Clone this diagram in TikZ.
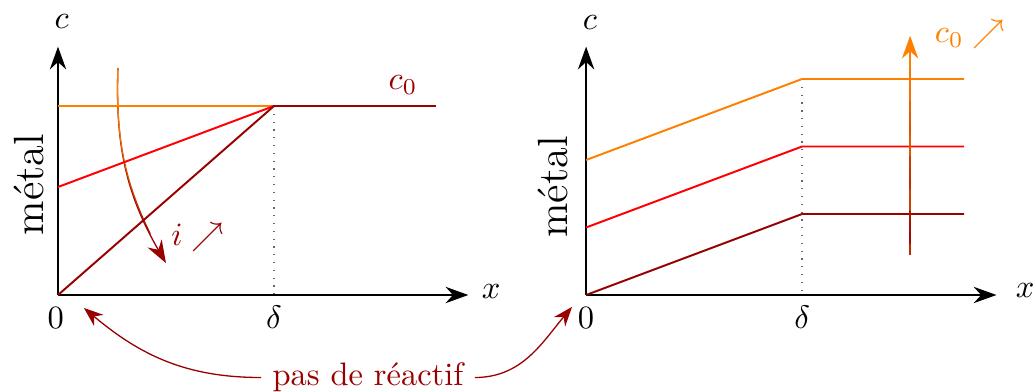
\documentclass[tikz,border=0pt]{standalone}
\usepackage{amsmath}
\usepackage{tikz}
\usetikzlibrary{arrows.meta, positioning, calc}
\colorlet{dred}{red!60!black}

\begin{document}
\begin{tikzpicture}[
    x=0.584cm, y=0.584cm,
    axis/.style={-{Stealth[length=7pt, width=5pt]}, thick},
    profile/.style={semithick},
    guide/.style={dotted, thin, gray!80!black},
    trend/.style={thin, -{Stealth[length=7pt, width=5pt]}},
    piece/.style={thin, line cap=round},
    pointer/.style={thin, dred, -{Stealth[length=6pt, width=4.5pt]}},
    sidelabel/.style={rotate=90, font=\fontsize{13}{15}\selectfont}
    ]
    \useasboundingbox (-1.074,-1.796) rectangle (18.093,5.463);

    % left: c0 fixed, current grows
    \coordinate (O1) at (0,0);
    \coordinate (X1) at (7.6,0);
    \coordinate (Y1) at (0,4.6);
    \coordinate (D1) at (4,0);
    \coordinate (S1) at (4,3.5);
    \coordinate (E1) at (7,3.5);

    \coordinate (g0) at (1.11,4.2);
    \coordinate (g1) at (2.0,0.59);
    \draw[trend, dred] (g0) to[out=-92, in=120] (g1);
    \foreach \k in {0,...,20}
        \path (g0) to[out=-92, in=120] coordinate[pos=\k/20] (gl\k) (g1);
    \foreach \k [count=\j, evaluate=\k as \pct using 100-100*(\k/17)^2] in {0,...,16}
        \draw[piece, orange!\pct!dred] (gl\k) -- (gl\j);

    \draw[axis] (O1) -- (X1);
    \draw[axis] (O1) -- (Y1);
    \draw[guide] (S1) -- (D1);
    \draw[profile, orange] (0,3.5) -- (S1);
    \draw[profile, red] (0,2) -- (S1);
    \draw[profile, dred] (O1) -- (S1) -- (E1);

    \node (c1) at (0.07,5.06) {$c$};
    \node (x1) at (8.02,0.07) {$x$};
    \node (zero1) at (-0.04,-0.43) {$0$};
    \node (delta1) at (4,-0.41) {$\delta$};
    \node[dred] (cz1) at (6.39,3.89) {$c_0$};
    \node[sidelabel] (metal1) at (-0.53,2.04) {métal};
    \node[dred] (cur) at (2.59,1.07) {$i \nearrow$};

    % right: c0 rises
    \begin{scope}[shift={(9.78,0)}]
        \coordinate (O2) at (0,0);
        \coordinate (X2) at (7.6,0);
        \coordinate (Y2) at (0,4.6);
        \coordinate (D2) at (4,0);
        \coordinate (S2) at (4,4);
        \draw[axis] (O2) -- (X2);
        \draw[axis] (O2) -- (Y2);
        \draw[guide] (S2) -- (D2);
        \draw[profile, orange] (0,2.5) -- (S2) -- (7,4);
        \draw[profile, red] (0,1.25) -- (4,2.75) -- (7,2.75);
        \draw[profile, dred] (O2) -- (4,1.5) -- (7,1.5);

        \node (c2) at (0.07,5.04) {$c$};
        \node (x2) at (8.13,0.09) {$x$};
        \node (zero2) at (0,-0.43) {$0$};
        \node (delta2) at (4,-0.41) {$\delta$};
        \node[sidelabel] (metal2) at (-0.61,2.0) {métal};
        \node[orange] (cz2) at (7.11,4.83) {$c_0 \nearrow$};

        \coordinate (v0) at (6,0.75);
        \coordinate (v1) at (6,4.8);
        \draw[trend, orange] (v0) -- (v1);
        \foreach \k [count=\j, evaluate=\k as \pct using 100*\k/17] in {0,...,16}
            \draw[piece, orange!\pct!dred] ($(v0)!\k/20!(v1)$) -- ($(v0)!\j/20!(v1)$);
    \end{scope}

    \node[dred] (noreact) at (5.74,-1.528) {pas de réactif};
    \coordinate (tipL) at (0.48,-0.24);
    \coordinate (tipR) at (9.52,-0.22);
    \draw[pointer] (noreact.west) to[out=180, in=-40] (tipL);
    \draw[pointer] (noreact.east) to[out=0, in=-130] (tipR);
\end{tikzpicture}
\end{document}
